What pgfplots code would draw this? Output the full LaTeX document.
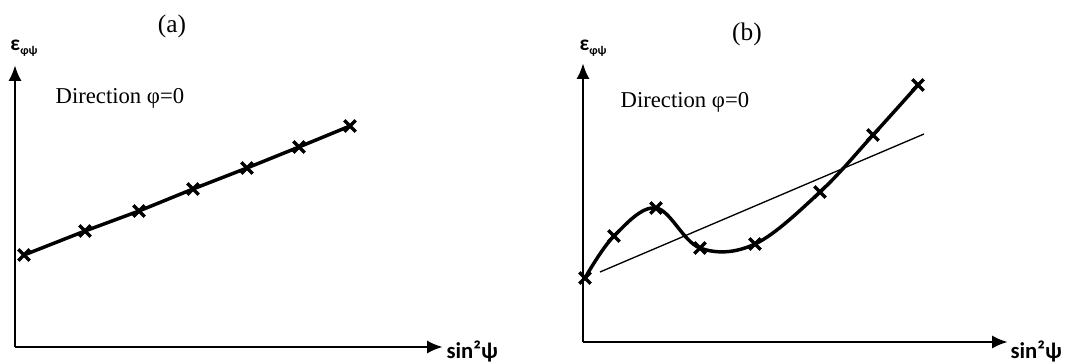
\documentclass[border=0pt]{standalone}
\usepackage{pgfplots}
\pgfplotsset{compat=1.18}
\usepackage{fontspec}
\setmainfont{Liberation Serif}
\newfontfamily\lab{Carlito}
\usetikzlibrary{arrows.meta}
\begin{document}
\begin{tikzpicture}[x=0.75pt,y=0.75pt]
\path[use as bounding box] (0,0) rectangle (1075,364);
\pgfplotsset{
  sk/.style={
    x=0.75pt, y=0.75pt, anchor=south west,
    axis lines=left, enlargelimits=false, clip=false,
    xtick=\empty, ytick=\empty,
    axis line style={line width=2.2pt, -{Latex[length=12pt,width=10pt]}},
  },
}
% ---------------- panel (a)
\begin{axis}[sk, at={(15,17)}, xmin=15, xmax=443, ymin=17, ymax=299]
\addplot[black, line width=2.6pt, mark=x, mark size=6pt,
  mark options={line width=2.6pt}] coordinates {
  (24,109) (85,133) (139,153) (193,175) (247,196) (299,217) (350,238)};
\node at (axis cs:172,338) {\fontsize{19}{22}\selectfont (a)};
\node[anchor=west] at (axis cs:51,266) {\fontsize{17}{20}\selectfont Direction φ=0};
\node at (axis cs:24,316) {\lab\bfseries\fontsize{16}{18}\selectfont ε\raisebox{-0.35ex}{\fontsize{9}{10}\selectfont φψ}};
\node[anchor=south west, inner sep=1pt] at (axis cs:445,0) {\lab\bfseries\fontsize{17}{19}\selectfont sin²ψ};
\end{axis}
% ---------------- panel (b)
\begin{axis}[sk, at={(583,22)}, xmin=583, xmax=1008, ymin=22, ymax=301]
\addplot[black, line width=1pt] coordinates {(600,92) (924,230)};
\addplot[black, line width=2.6pt, smooth, tension=0.6, mark=x, mark size=6pt,
  mark options={line width=2.6pt}] coordinates {
  (585,86) (614,128) (656,156) (700,116) (755,120) (820,172) (873,229) (918,279)};
\node at (axis cs:747,330) {\fontsize{19}{22}\selectfont (b)};
\node[anchor=west] at (axis cs:616,262) {\fontsize{17}{20}\selectfont Direction φ=0};
\node at (axis cs:593,316) {\lab\bfseries\fontsize{16}{18}\selectfont ε\raisebox{-0.35ex}{\fontsize{9}{10}\selectfont φψ}};
\node[anchor=south west, inner sep=1pt] at (axis cs:1009,0) {\lab\bfseries\fontsize{17}{19}\selectfont sin²ψ};
\end{axis}
\end{tikzpicture}
\end{document}
